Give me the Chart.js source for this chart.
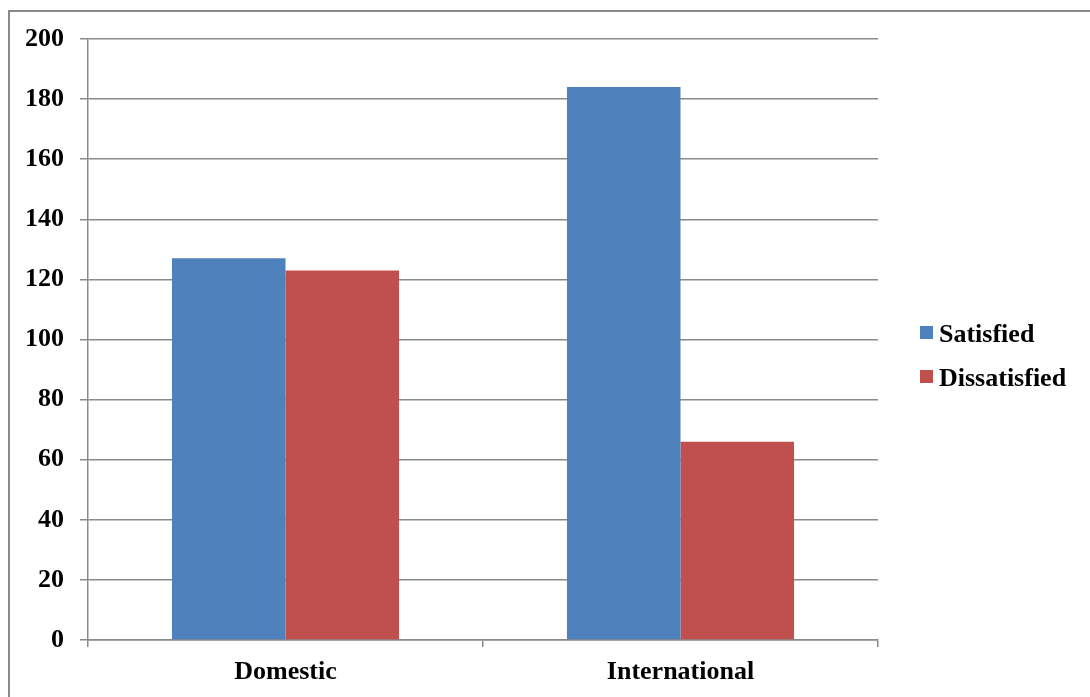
<!DOCTYPE html>
<html>
<head>
<meta charset="utf-8">
<script src="https://cdn.jsdelivr.net/npm/chart.js@4"></script>
<style>
  html, body { margin: 0; padding: 0; background: #fff; }
  #wrap { position: relative; width: 1090px; height: 697px; overflow: hidden; }
  #frame { position: absolute; left: 8px; top: 10px; width: 1200px; height: 800px;
           border-top: 2px solid #8a8a8a; border-left: 2px solid #8a8a8a; box-sizing: border-box; }
  canvas { position: absolute; left: 0; top: 0; }
</style>
</head>
<body>
<div id="wrap">
  <div id="frame"></div>
  <canvas id="c" width="1090" height="697"></canvas>
</div>
<script>
const categories = ["Domestic", "International"];
const satisfied = [127, 184];
const dissatisfied = [123, 66];
const seriesNames = ["Satisfied", "Dissatisfied"];
const seriesColors = ["#4F81BD", "#C0504D"];

const FONT = '"Liberation Serif", "Times New Roman", serif';
const GRID = "#8a8a8a";

const legendPlugin = {
  id: "sideLegend",
  afterDraw(chart) {
    const ctx = chart.ctx;
    ctx.save();
    ctx.font = "bold 26px " + FONT;
    ctx.textBaseline = "alphabetic";
    ctx.fillStyle = "#000";
    const ys = [333, 377];
    chart.data.datasets.forEach((ds, i) => {
      ctx.fillStyle = ds.backgroundColor;
      ctx.fillRect(920, ys[i] - 7, 13, 13);
      ctx.fillStyle = "#000";
      ctx.fillText(ds.label, 939, ys[i] + 9);
    });
    ctx.restore();
  }
};

new Chart(document.getElementById("c"), {
  type: "bar",
  data: {
    labels: categories,
    datasets: [
      { label: seriesNames[0], data: satisfied, backgroundColor: seriesColors[0] },
      { label: seriesNames[1], data: dissatisfied, backgroundColor: seriesColors[1] }
    ]
  },
  options: {
    responsive: false,
    animation: false,
    layout: { padding: { left: 0, top: 39, right: 212, bottom: 0 } },
    datasets: { bar: { categoryPercentage: 0.575, barPercentage: 1.0 } },
    plugins: { legend: { display: false }, tooltip: { enabled: false } },
    scales: {
      x: {
        offset: true,
        grid: { offset: true, drawOnChartArea: false, drawTicks: true, tickLength: 7, color: GRID, lineWidth: 1.5 },
        border: { display: true, color: GRID, width: 1.5 },
        ticks: { color: "#000", font: { family: FONT, size: 26, weight: "bold" }, padding: 10 },
        afterFit(scale) { scale.height = 57; }
      },
      y: {
        min: 0, max: 200,
        ticks: { stepSize: 20, color: "#000", font: { family: FONT, size: 26, weight: "bold" }, padding: 16 },
        grid: { color: GRID, lineWidth: 1.5, tickLength: 8 },
        border: { display: true, color: GRID, width: 1.5 },
        afterFit(scale) { scale.width = 88; }
      }
    }
  },
  plugins: [legendPlugin]
});
</script>
</body>
</html>
